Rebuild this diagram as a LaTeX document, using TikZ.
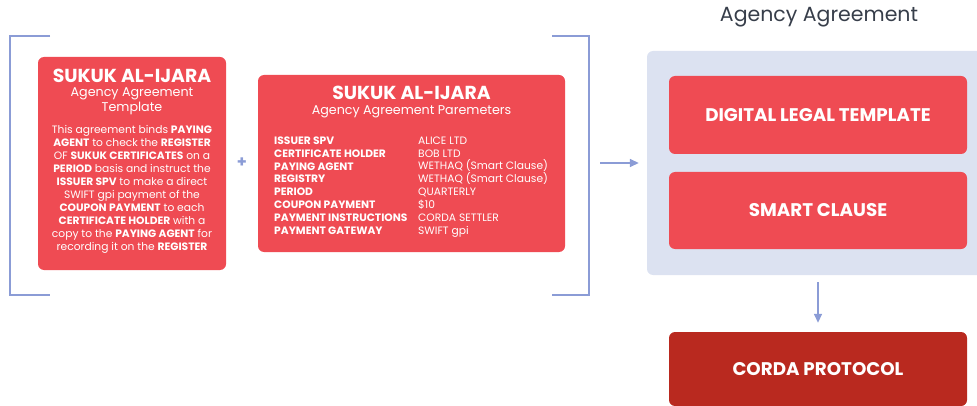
\documentclass[tikz,border=0pt]{standalone}
\usepackage{fontspec}
\setmainfont{Poppins}
\usetikzlibrary{arrows.meta,positioning}
\definecolor{sukukred}{HTML}{EF4B53}
\definecolor{cordared}{HTML}{B9291F}
\definecolor{panelblue}{HTML}{DCE2F1}
\definecolor{linkblue}{HTML}{8B9CD6}
\definecolor{headgray}{HTML}{373E4A}
\newcommand\tightlines{\lineskiplimit=-10pt\relax}
\tikzset{
  redbox/.style={fill=sukukred, rounded corners=6pt, inner sep=0},
  bigbox/.style={redbox, minimum width=298pt, text=white,
    font=\fontsize{18.3}{21}\selectfont\bfseries},
  bracket/.style={draw=linkblue, line width=2pt},
  flow/.style={draw=linkblue, line width=1.5pt, -{Triangle[length=9pt,width=8pt]}},
  heading/.style={text=white, inner sep=0, font=\fontsize{18.8}{21}\selectfont\bfseries},
  subheading/.style={text=white, inner sep=0, align=center, font=\fontsize{12.7}{15}\selectfont},
  bodytext/.style={text=white, inner sep=0, align=center,
    font=\fontsize{10.7}{13}\selectfont\tightlines},
  tabletext/.style={text=white, inner sep=0, align=left, anchor=north west,
    font=\fontsize{10.7}{12.95}\selectfont\tightlines},
}

\begin{document}
\begin{tikzpicture}[x=1pt, y=-1pt]
  \useasboundingbox (0,0) rectangle (977,406);
  \clip (0,0) rectangle (977,406);

  % coordinates to be reused
  \coordinate (brk) at (600,163);

  % brackets round the two inputs
  \draw[bracket] (50,36) -- (10,36) -- (10,295) -- (50,295);
  \draw[bracket] (552,36) -- (589,36) -- (589,295) -- (552,295);

  % template box
  \node[redbox, minimum width=188pt, minimum height=213pt] (template) at (132,163.5) {};
  \node[heading] (templatetitle) at (132,75.5) {SUKUK AL-IJARA};
  \node[subheading] (templatesub) at (132,101.5) {Agency Agreement\\Template};
  \node[bodytext, anchor=north] (templatetext) at (132,125.5) {%
    This agreement binds \textbf{PAYING}\\
    \textbf{AGENT} to check the \textbf{REGISTER}\\
    OF \textbf{SUKUK CERTIFICATES} on a\\
    \textbf{PERIOD} basis and instruct the\\
    \textbf{ISSUER SPV} to make a direct\\
    SWIFT gpi payment of the\\
    \textbf{COUPON PAYMENT} to each\\
    \textbf{CERTIFICATE HOLDER} with a\\
    copy to the \textbf{PAYING AGENT} for\\
    recording it on the \textbf{REGISTER}};

  \node[text=linkblue, inner sep=0, font=\fontsize{16}{16}\selectfont\bfseries] (plus) at (242,162.5) {+};

  % parameters box
  \node[redbox, minimum width=307pt, minimum height=177pt] (params) at (411.5,163.5) {};
  \node[heading] (paramstitle) at (411.5,92.5) {SUKUK AL-IJARA};
  \node[subheading] (paramssub) at (411.5,112) {Agency Agreement Paremeters};
  \node[tabletext] (paramslabels) at (274,136.3) {%
    \textbf{ISSUER SPV}\\ \textbf{CERTIFICATE HOLDER}\\ \textbf{PAYING AGENT}\\
    \textbf{REGISTRY}\\ \textbf{PERIOD}\\ \textbf{COUPON PAYMENT}\\
    \textbf{PAYMENT INSTRUCTIONS}\\ \textbf{PAYMENT GATEWAY}};
  \node[tabletext] (paramsvalues) at (418,136.3) {%
    ALICE LTD\\ BOB LTD\\ WETHAQ (Smart Clause)\\ WETHAQ (Smart Clause)\\
    QUARTERLY\\ \$10\\ CORDA SETTLER\\ SWIFT gpi};

  % agency agreement side
  \node[text=headgray, inner sep=0, font=\fontsize{20.5}{23}\selectfont] (agreementtitle) at (819,17) {Agency Agreement};
  \node[fill=panelblue, rounded corners=6pt, minimum width=343pt, minimum height=224pt] (agreement) at (818.5,163) {};
  \node[bigbox, minimum height=78pt] (legal) at (818,115) {DIGITAL LEGAL TEMPLATE};
  \node[bigbox, minimum height=77pt] (smart) at (818,210.5) {SMART CLAUSE};
  \node[bigbox, fill=cordared, minimum height=74pt] (corda) at (818,369) {CORDA PROTOCOL};

  % arrows
  \draw[flow, shorten >=8pt] (brk) -- (agreement.west);
  \draw[flow, shorten <=7pt, shorten >=9pt] (corda.north |- agreement.south) -- (corda.north);
\end{tikzpicture}
\end{document}
